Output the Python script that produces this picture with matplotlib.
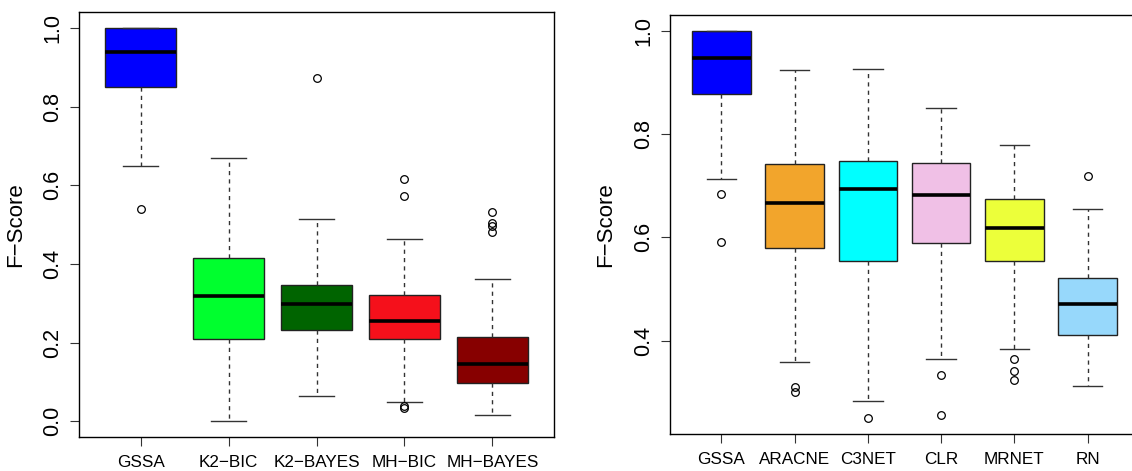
import matplotlib
matplotlib.use("Agg")
import matplotlib.pyplot as plt

plt.rcParams['font.family'] = ['Liberation Sans', 'DejaVu Sans']

# ---- Left panel data ----
left_labels = ["GSSA", "K2\u2212BIC", "K2\u2212BAYES", "MH\u2212BIC", "MH\u2212BAYES"]
left_q1 = [0.849, 0.209, 0.233, 0.209, 0.097]
left_med = [0.938, 0.318, 0.298, 0.256, 0.145]
left_q3 = [1.000, 0.415, 0.347, 0.322, 0.214]
left_wlo = [0.650, 0.000, 0.064, 0.049, 0.017]
left_whi = [1.000, 0.669, 0.515, 0.463, 0.363]
left_fliers = [[0.540], [], [0.874], [0.616, 0.572, 0.038, 0.034],
               [0.531, 0.503, 0.496, 0.482]]
left_colors = ["#0000FF", "#00FF2E", "#006400", "#F5101B", "#870000"]

# ---- Right panel data ----
right_labels = ["GSSA", "ARACNE", "C3NET", "CLR", "MRNET", "RN"]
right_q1 = [0.878, 0.580, 0.554, 0.590, 0.555, 0.412]
right_med = [0.946, 0.667, 0.694, 0.682, 0.618, 0.471]
right_q3 = [1.000, 0.742, 0.747, 0.744, 0.675, 0.522]
right_wlo = [0.712, 0.359, 0.283, 0.364, 0.385, 0.312]
right_whi = [1.000, 0.923, 0.926, 0.851, 0.778, 0.654]
right_fliers = [[0.684, 0.591], [0.311, 0.301], [0.2505], [0.334, 0.257],
                [0.364, 0.342, 0.325], [0.718]]
right_colors = ["#0000FF", "#F2A52C", "#00FFFF", "#F0C0E6", "#ECFF3A", "#97D8FB"]

W, H = 1132, 471
fig = plt.figure(figsize=(W / 100, H / 100), dpi=100)


def r_lim(lo, hi):
    d = hi - lo
    return lo - 0.04 * d, hi + 0.04 * d


def panel(ax, labels, q1, med, q3, wlo, whi, fliers, colors, yticks, xfs, yfs, lfs):
    stats = []
    for i in range(len(labels)):
        stats.append(dict(med=med[i], q1=q1[i], q3=q3[i], whislo=wlo[i],
                          whishi=whi[i], fliers=fliers[i], label=labels[i]))
    n = len(labels)
    pos = list(range(1, n + 1))
    bp = ax.bxp(stats, positions=pos, widths=0.8, patch_artist=True,
                boxprops=dict(linewidth=1.0, edgecolor="#222222"),
                medianprops=dict(color="black", linewidth=2.6, solid_capstyle="butt"),
                whiskerprops=dict(color="#333333", linewidth=1.0, linestyle=(0, (3, 3))),
                capprops=dict(color="#333333", linewidth=1.0),
                flierprops=dict(marker="o", markersize=5.5, markerfacecolor="none",
                                markeredgecolor="black", markeredgewidth=0.9, linestyle="none"),
                capwidths=0.4)
    for b, c in zip(bp["boxes"], colors):
        b.set_facecolor(c)
    ax.set_xlim(0.3, n + 0.7)
    allv = wlo + whi + q1 + q3 + [v for f in fliers for v in f]
    ax.set_ylim(*r_lim(min(allv), max(allv)))
    ax.set_xticks(pos)
    ax.set_xticklabels(labels, fontsize=xfs)
    ax.set_yticks(yticks)
    ax.set_yticklabels(["%.1f" % t for t in yticks], fontsize=yfs, rotation=90, va="center")
    ax.tick_params(axis="both", direction="out", length=6.3, width=0.8, color="#333333")
    ax.tick_params(axis="x", pad=7)
    ax.tick_params(axis="y", pad=5)
    ax.set_ylabel("F\u2212Score", fontsize=lfs)
    for s in ax.spines.values():
        s.set_linewidth(1.0)
        s.set_color("black")


L1, R1, T1, B1 = 79, 554, 12.3, 437
ax1 = fig.add_axes([L1 / W, 1 - B1 / H, (R1 - L1) / W, (B1 - T1) / H])
panel(ax1, left_labels, left_q1, left_med, left_q3, left_wlo, left_whi, left_fliers,
      left_colors, [0.0, 0.2, 0.4, 0.6, 0.8, 1.0], 12.3, 15.5, 16)
ax1.yaxis.set_label_coords((26 - L1) / (R1 - L1), 0.5)

L2, R2, T2, B2 = 670, 1139, 15, 433.7
ax2 = fig.add_axes([L2 / W, 1 - B2 / H, (R2 - L2) / W, (B2 - T2) / H])
panel(ax2, right_labels, right_q1, right_med, right_q3, right_wlo, right_whi, right_fliers,
      right_colors, [0.4, 0.6, 0.8, 1.0], 12.3, 15.5, 16)
ax2.yaxis.set_label_coords((616 - L2) / (R2 - L2), 0.5)

fig.savefig("out.png", dpi=100)
